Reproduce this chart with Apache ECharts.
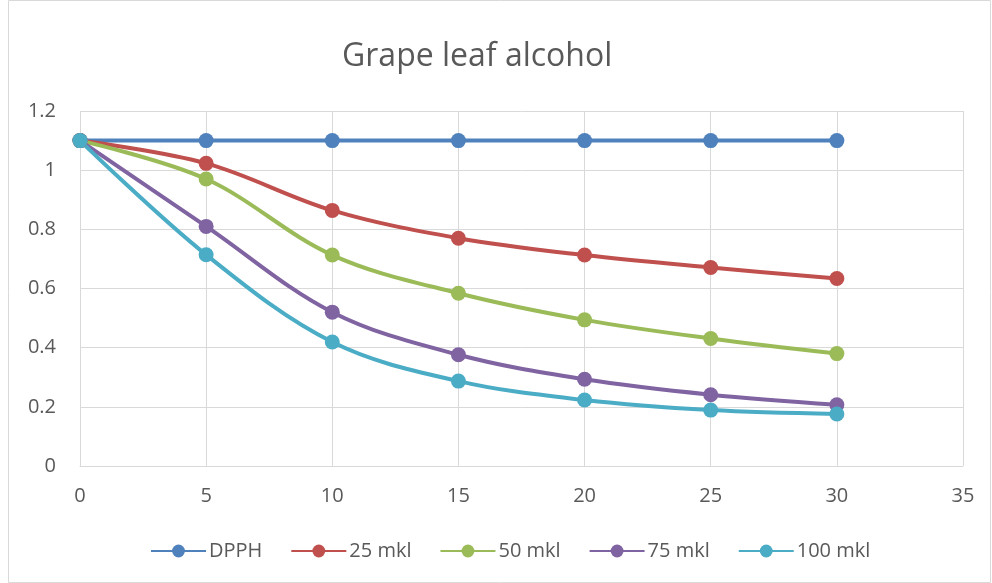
<!DOCTYPE html>
<html><head><meta charset="utf-8">
<script src="https://cdn.jsdelivr.net/npm/echarts@6/dist/echarts.min.js"></script>
<style>html,body{margin:0;padding:0;background:#fff}#c{width:992px;height:583px}</style>
</head><body><div id="c"></div>
<script>
const xValues = [0, 5, 10, 15, 20, 25, 30];
const seriesNames = ['DPPH', '25 mkl', '50 mkl', '75 mkl', '100 mkl'];
const dpph = [1.1, 1.1, 1.1, 1.1, 1.1, 1.1, 1.1];
const mkl25 = [1.1, 1.023, 0.864, 0.770, 0.713, 0.671, 0.634];
const mkl50 = [1.1, 0.970, 0.713, 0.584, 0.494, 0.431, 0.380];
const mkl75 = [1.1, 0.810, 0.520, 0.376, 0.293, 0.241, 0.207];
const mkl100 = [1.1, 0.714, 0.419, 0.287, 0.223, 0.189, 0.176];
const colors = ['#4F81BD', '#C0504D', '#9BBB59', '#8064A2', '#4BACC6'];
const allData = [dpph, mkl25, mkl50, mkl75, mkl100];

const chart = echarts.init(document.getElementById('c'), null, {renderer: 'canvas'});
const font = '"Open Sans", "Noto Sans", sans-serif';
chart.setOption({
  animation: false,
  color: colors,
  title: {
    text: 'Grape leaf alcohol', left: 337, top: 36,
    textStyle: {fontFamily: font, fontSize: 32, fontWeight: 'normal', color: '#595959'}
  },
  graphic: [{type: 'rect', shape: {x: 8.5, y: 0.5, width: 982, height: 582}, style: {fill: 'none', stroke: '#d9d9d9', lineWidth: 1}, silent: true}],
  legend: {
    top: 536, left: 145, itemWidth: 55, itemHeight: 16, itemGap: 28,
    textStyle: {fontFamily: font, fontSize: 20, color: '#595959', padding: [0, 0, 0, -2]},
    data: seriesNames
  },
  grid: {left: 80, right: 29, top: 111, bottom: 117},
  xAxis: {
    type: 'value', min: 0, max: 35, interval: 5,
    axisLine: {lineStyle: {color: '#d9d9d9', width: 1}},
    axisTick: {show: false},
    axisLabel: {fontFamily: font, fontSize: 20, color: '#595959', margin: 20},
    splitLine: {show: true, lineStyle: {color: '#d9d9d9', width: 1}}
  },
  yAxis: {
    type: 'value', min: 0, max: 1.2, interval: 0.2,
    axisLine: {show: false},
    axisTick: {show: false},
    axisLabel: {fontFamily: font, fontSize: 20, color: '#595959', margin: 24,
      formatter: v => String(Math.round(v * 10) / 10)},
    splitLine: {show: true, lineStyle: {color: '#d9d9d9', width: 1}}
  },
  series: seriesNames.map((n, i) => ({
    name: n, type: 'line', smooth: 0.35,
    data: xValues.map((x, j) => [x, allData[i][j]]),
    symbol: 'circle', symbolSize: 15,
    lineStyle: {width: 4, color: colors[i]},
    itemStyle: {color: colors[i]}
  }))
});
</script></body></html>
